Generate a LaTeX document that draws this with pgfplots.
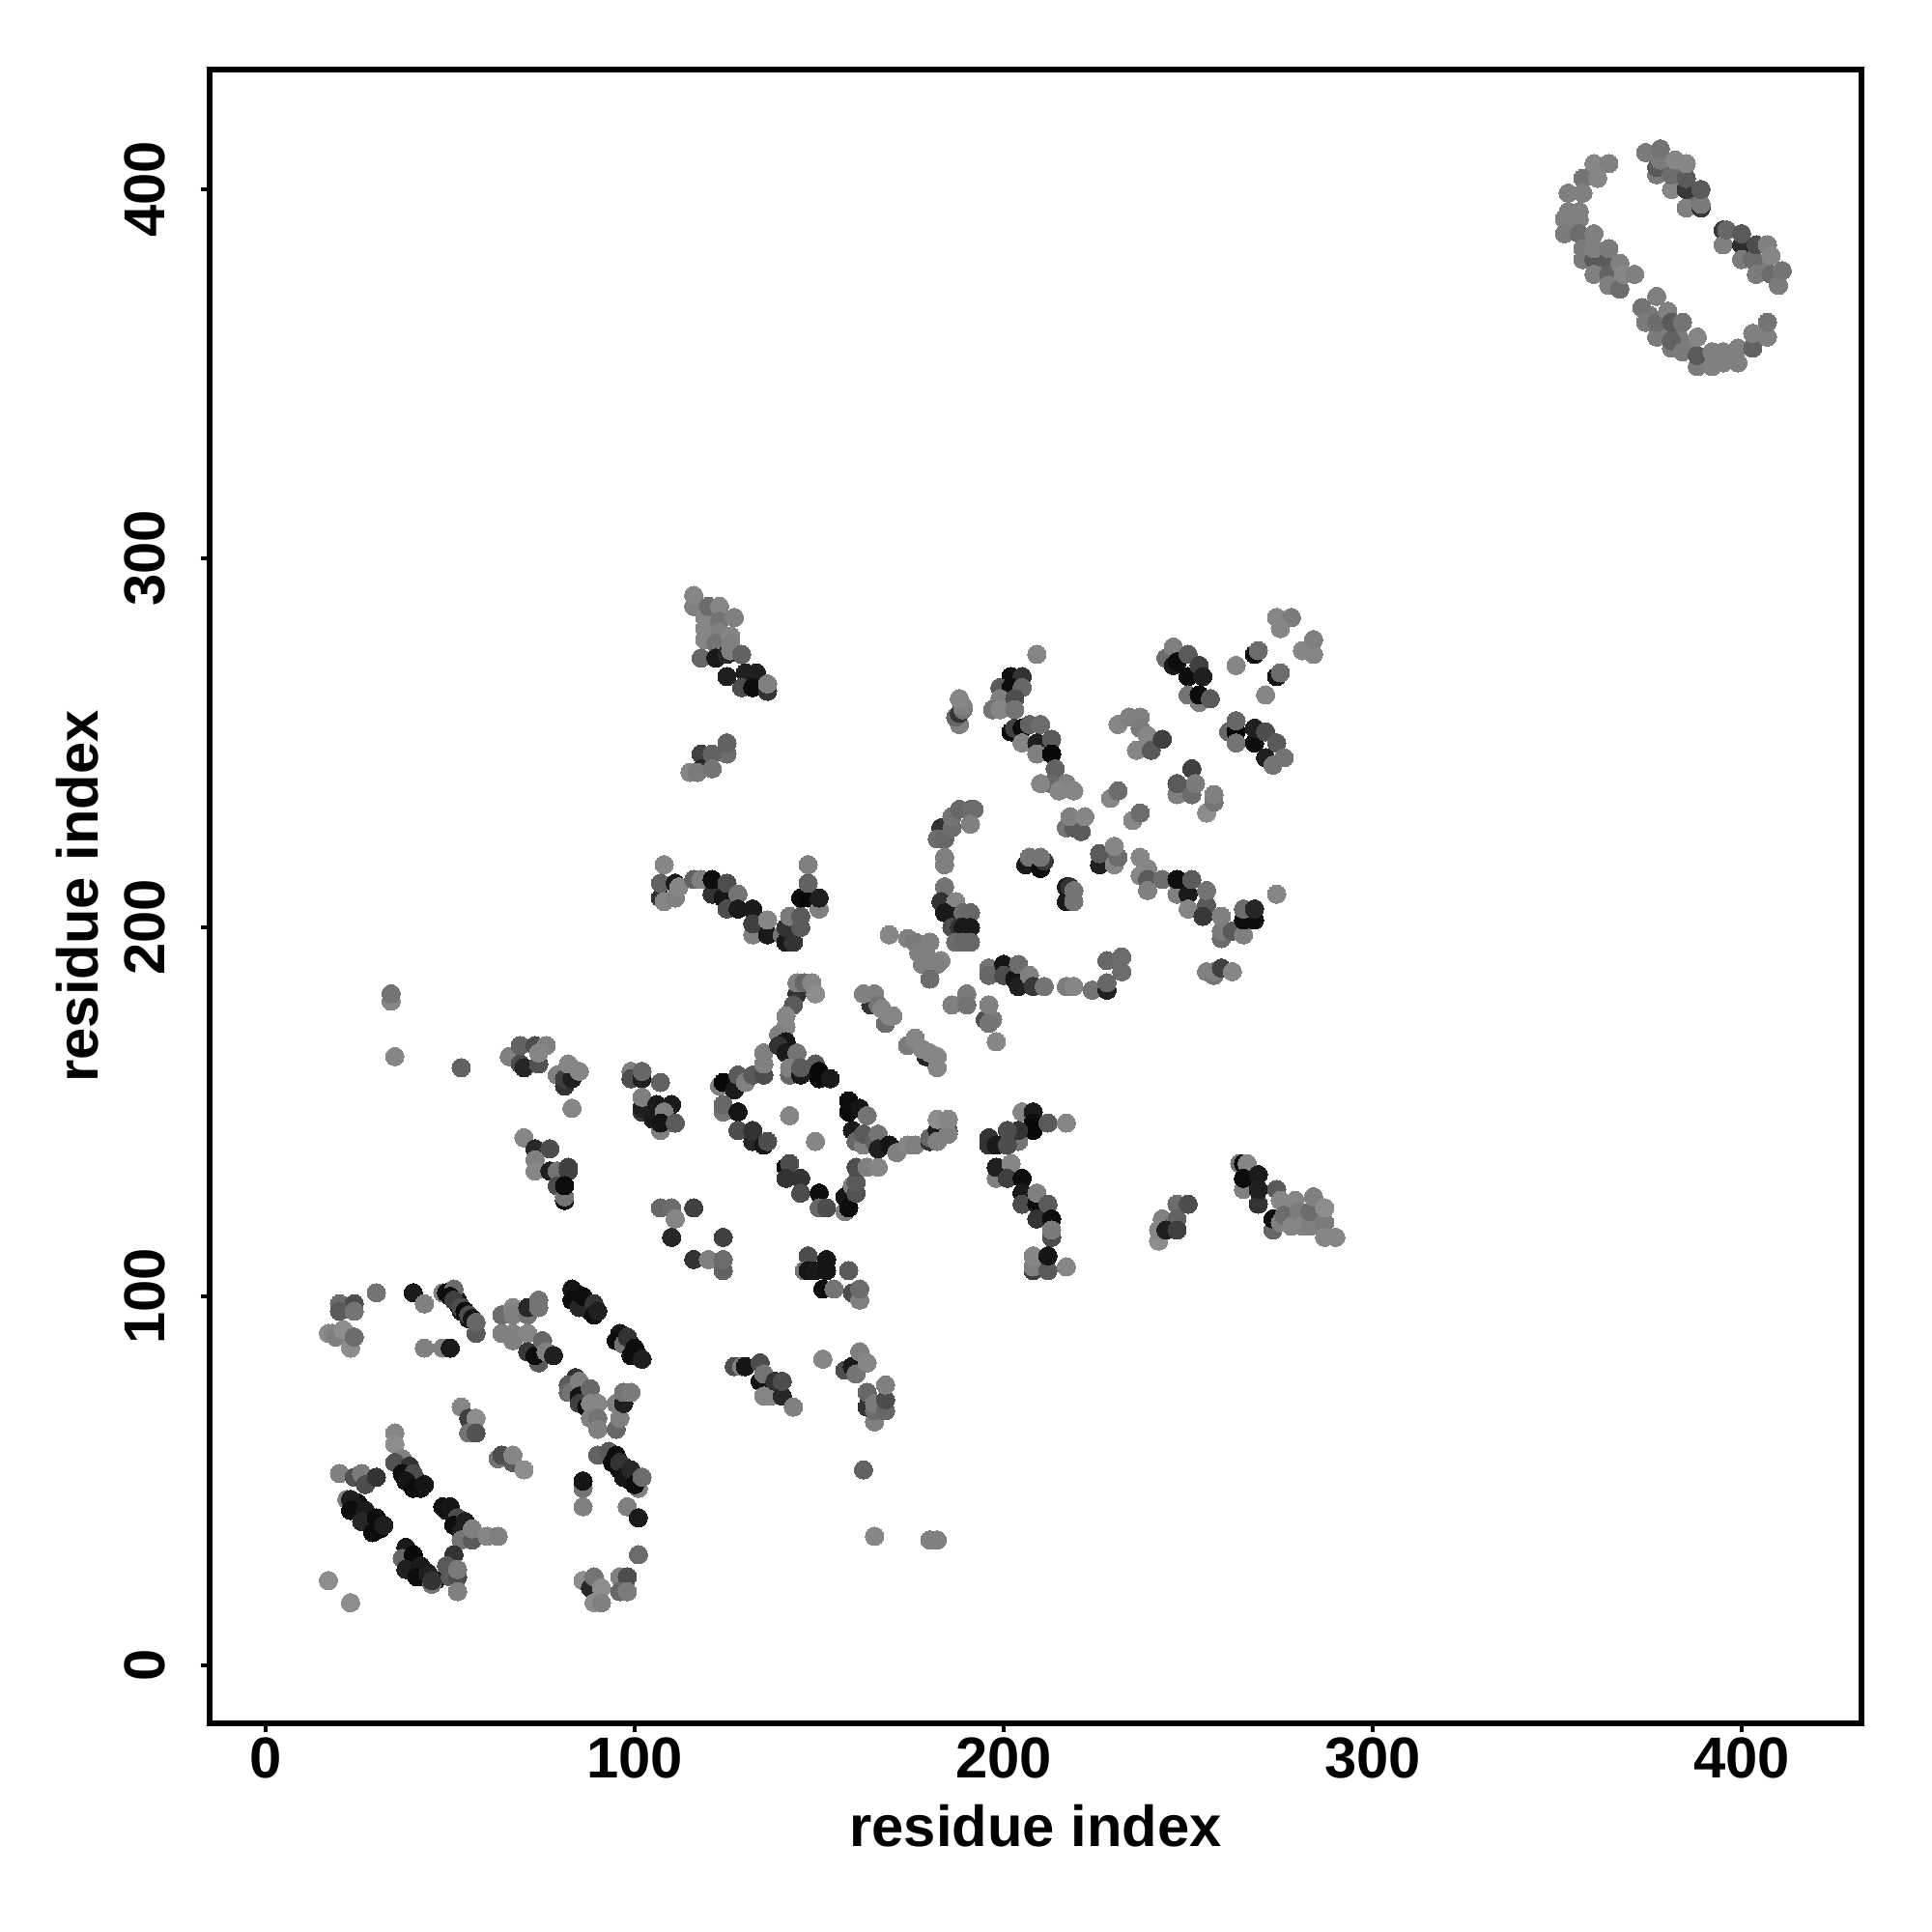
\documentclass[border=0pt]{standalone}
\usepackage{fontspec}
\setmainfont{Liberation Sans}
\usepackage{pgfplots}
\usepackage{pgfplotstable}
\pgfplotsset{compat=1.18}
\pgfplotstableread{
x y g
% runs underneath the clusters
25 44 .05
26 41 .05
28 40 .05
31 37 .05
39 52 .08
41 50 .08
42 48 .08
49 42 .1
52 39 .1
53 37 .1
39 30 .1
41 26 .1
43 24 .1
46 23 .1
52 99 .1
53 96 .1
55 94 .1
84 101 .05
85 99 .05
87 97 .05
88 96 .05
97 88 .05
99 87 .05
101 84 .05
95 56 .08
97 54 .08
98 52 .08
99 50 .08
354 390 .5
358 386 .48
362 379 .48
366 376 .5
375 366 .48
379 362 .48
383 360 .48
386 358 .48
387 398 .4
402 383 .42
406 380 .48
% lower left
20 98 .42
24 98 .3
20 96 .35
24 96 .45
30 101 .45
40 101 .1
43 98 .5
17 90 .55
18 90 .52
19 89 .5
21 91 .55
23 86 .55
24 89 .42
43 86 .5
48 86 .5
50 86 .1
48 101 .5
57 90 .35
49 101 .05
51 102 .42
50 100 .05
52 98 .05
51 99 .25
53 97 .3
54 96 .05
55 95 .3
56 94 .08
57 93 .4
64 95 .42
67 97 .52
67 95 .5
71 95 .45
71 97 .15
74 99 .45
74 97 .45
64 90 .5
67 90 .5
67 88 .5
71 90 .52
71 85 .22
74 82 .35
73 84 .05
75 88 .4
76 85 .5
78 84 .12
83 102 .08
83 99 .05
85 97 .15
86 100 .05
89 98 .2
89 95 .05
90 96 .12
96 90 .08
95 88 .05
97 87 .45
98 89 .2
99 84 .05
100 86 .05
102 83 .12
84 78 .2
82 76 .35
82 74 .4
83 74 .45
85 77 .5
85 73 .08
85 71 .25
87 70 .05
88 75 .4
88 71 .52
90 71 .52
88 67 .5
90 67 .45
90 64 .5
95 64 .4
95 71 .5
96 67 .5
97 71 .12
97 74 .45
99 74 .48
90 57 .38
93 58 .35
94 55 .05
95 57 .05
96 53 .05
96 55 .2
97 51 .08
99 53 .15
101 48 .5
100 49 .05
102 51 .42
86 48 .45
86 50 .08
86 43 .5
98 43 .5
101 40 .1
101 30 .42
86 23 .55
88 21 .15
89 24 .45
91 21 .55
89 17 .55
91 17 .5
96 24 .5
98 24 .3
96 20 .4
98 20 .48
53 70 .52
55 67 .25
57 67 .55
55 63 .45
57 63 .32
63 56 .45
64 57 .3
67 55 .35
67 57 .52
70 53 .55
35 63 .52
35 60 .55
37 56 .5
35 55 .32
39 54 .2
37 52 .05
40 52 .3
38 50 .08
40 48 .05
43 49 .08
20 52 .5
24 51 .32
26 52 .48
27 49 .3
30 51 .2
22 45 .5
23 45 .12
24 43 .1
23 42 .05
27 42 .1
26 39 .15
30 40 .05
29 36 .05
32 38 .12
48 43 .05
50 43 .08
52 40 .3
51 38 .05
54 39 .12
53 36 .12
53 34 .45
56 34 .35
56 37 .5
60 35 .52
63 35 .5
38 32 .1
37 29 .4
40 30 .03
38 26 .12
42 27 .1
41 24 .05
44 25 .12
45 22 .45
45 23 .2
51 30 .2
49 27 .35
50 24 .35
52 24 .3
52 26 .48
52 20 .5
17 23 .55
23 17 .55
% centre
99 161 .5
99 159 .3
102 159 .12
102 161 .4
107 158 .38
102 150 .2
102 151 .12
102 154 .5
106 152 .1
110 152 .1
105 148 .1
108 150 .5
107 145 .5
107 147 .08
111 147 .35
123 157 .5
124 158 .03
127 156 .1
128 160 .35
130 158 .5
132 160 .35
135 160 .3
135 163 .5
135 166 .5
124 150 .45
124 152 .4
128 150 .08
128 145 .3
132 142 .15
132 145 .2
135 141 .08
136 142 .3
142 149 .52
149 142 .52
141 135 .05
142 136 .3
141 132 .2
145 132 .2
145 128 .3
150 128 .05
150 124 .4
152 124 .3
157 123 .5
157 127 .08
158 124 .05
159 130 .5
160 128 .32
160 131 .35
160 135 .3
163 135 .5
166 135 .52
144 182 .2
144 185 .5
146 185 .4
148 185 .52
149 182 .55
143 179 .35
141 176 .52
141 173 .52
139 171 .5
141 169 .08
139 168 .2
141 166 .1
144 166 .45
142 160 .4
142 162 .5
145 160 .1
145 162 .35
149 163 .35
150 159 .03
150 161 .03
153 159 .1
158 150 .03
158 153 .05
161 151 .08
163 149 .45
159 145 .1
160 142 .4
162 141 .5
162 144 .35
165 142 .38
166 144 .45
166 140 .12
169 141 .08
171 139 .5
174 141 .52
176 141 .5
180 142 .2
180 143 .4
182 145 .12
185 145 .3
182 142 .5
185 144 .5
182 148 .55
185 148 .52
164 179 .2
162 182 .5
165 182 .5
166 179 .45
168 174 .42
167 178 .52
169 176 .52
170 176 .52
174 168 .48
176 170 .52
179 165 .15
178 167 .52
180 166 .52
182 165 .52
182 162 .52
186 179 .5
190 182 .48
190 179 .45
195 175 .3
197 175 .48
196 174 .45
196 179 .5
198 169 .52
107 124 .4
110 124 .42
116 124 .25
110 116 .15
111 121 .52
116 110 .2
120 110 .5
124 116 .25
124 107 .38
124 110 .42
147 111 .3
146 107 .45
147 107 .08
149 107 .1
152 110 .08
152 107 .08
151 102 .05
154 102 .45
158 107 .35
159 101 .3
161 99 .5
161 102 .42
127 81 .3
129 81 .5
130 81 .08
134 82 .3
134 77 .08
135 79 .45
135 73 .52
137 73 .52
138 77 .2
140 73 .15
140 77 .3
143 70 .5
151 83 .52
157 80 .3
159 81 .1
160 79 .45
161 85 .5
163 82 .52
163 70 .2
163 74 .4
165 66 .5
165 69 .42
165 71 .48
168 69 .4
168 72 .3
168 76 .5
162 53 .38
165 35 .52
180 34 .5
182 34 .5
% lower right
205 150 .52
208 150 .1
208 147 .05
208 145 .03
212 147 .35
217 147 .52
204 142 .45
204 145 .2
201 145 .3
196 143 .2
196 141 .2
198 141 .1
201 141 .3
198 132 .5
198 135 .12
202 136 .52
201 132 .25
205 132 .05
205 128 .1
205 125 .3
209 125 .05
209 128 .5
212 125 .35
209 121 .2
213 121 .05
213 116 .3
213 118 .48
208 107 .25
208 108 .5
208 111 .52
212 107 .35
212 111 .08
217 108 .52
247 125 .42
250 125 .3
243 121 .5
247 121 .38
242 115 .55
242 118 .52
244 118 .12
247 118 .25
264 136 .45
265 136 .03
266 136 .52
265 129 .5
265 132 .05
269 133 .1
269 125 .2
269 129 .12
274 129 .35
273 118 .4
273 121 .05
275 126 .52
279 126 .52
275 120 .5
276 122 .42
278 119 .52
280 123 .48
281 119 .52
283 119 .5
283 123 .42
284 127 .5
287 120 .48
287 124 .55
287 116 .52
290 116 .52
% upper middle
209 274 .52
202 268 .05
205 268 .2
199 265 .35
202 265 .05
205 265 .4
199 262 .5
203 262 .3
197 259 .45
199 259 .52
203 259 .45
202 253 .05
203 254 .25
205 254 .05
207 255 .38
210 255 .42
205 250 .52
209 250 .12
213 251 .35
209 247 .5
213 247 .03
214 243 .38
213 239 .4
210 239 .52
217 239 .5
215 237 .52
219 237 .52
231 255 .52
234 257 .5
237 257 .5
237 254 .48
236 248 .52
239 252 .52
240 248 .35
243 251 .25
244 273 .42
246 276 .5
246 271 .1
247 272 .05
250 268 .05
250 274 .35
253 271 .25
254 268 .12
250 263 .45
253 261 .5
253 263 .05
256 262 .35
263 271 .52
268 274 .05
269 275 .42
274 284 .52
278 284 .48
275 281 .52
274 268 .08
275 269 .42
271 263 .52
281 275 .52
284 274 .52
284 278 .5
261 253 .4
263 253 .03
263 256 .4
263 250 .45
268 250 .05
268 254 .12
271 253 .3
274 250 .35
271 246 .12
273 244 .45
276 246 .45
251 243 .25
247 236 .5
247 239 .35
251 236 .42
252 239 .48
255 231 .55
257 234 .45
257 236 .5
229 235 .52
231 237 .42
235 229 .52
237 231 .42
217 227 .45
219 227 .35
218 230 .5
221 226 .35
222 230 .52
206 217 .1
207 219 .45
210 216 .05
211 218 .22
210 219 .45
217 207 .1
217 211 .1
218 211 .2
219 207 .45
219 210 .45
226 217 .12
226 220 .35
230 217 .52
231 219 .42
230 222 .52
237 214 .52
237 219 .52
239 216 .52
239 213 .35
243 213 .42
239 210 .5
247 209 .5
247 213 .05
250 209 .1
251 213 .35
250 205 .52
255 206 .35
255 210 .45
254 203 .22
259 197 .42
259 199 .48
259 203 .5
262 199 .35
265 198 .5
265 202 .05
268 202 .05
265 205 .42
268 205 .15
274 209 .52
255 188 .5
257 187 .45
257 188 .5
259 189 .25
262 188 .52
% upper left
116 287 .5
116 290 .52
119 284 .52
119 281 .52
119 278 .52
120 287 .42
123 287 .52
123 283 .45
123 280 .5
122 277 .45
127 284 .5
126 279 .52
126 277 .5
118 273 .4
122 273 .1
125 274 .15
126 275 .5
129 274 .38
125 268 .12
130 269 .12
133 269 .12
129 265 .3
132 265 .05
136 264 .2
136 266 .5
125 247 .42
125 250 .38
118 247 .25
118 243 .15
121 247 .38
115 242 .52
117 242 .48
121 243 .45
108 217 .52
107 208 .2
107 212 .38
111 212 .1
108 207 .52
111 208 .5
112 211 .52
116 213 .38
118 213 .5
121 209 .2
121 213 .05
124 208 .08
125 212 .3
125 205 .3
128 209 .45
128 205 .1
132 205 .1
132 198 .5
132 201 .25
136 198 .1
136 202 .52
140 198 .45
141 196 .1
143 196 .2
141 200 .2
142 203 .48
145 200 .35
145 203 .35
145 208 .05
147 208 .03
150 205 .5
150 208 .12
147 212 .38
147 217 .5
188 255 .5
187 257 .4
188 258 .2
189 259 .45
189 260 .5
188 262 .52
183 227 .2
182 224 .42
184 224 .4
186 227 .42
186 230 .45
188 232 .4
191 232 .42
192 232 .42
191 228 .5
184 217 .5
184 219 .5
184 211 .45
183 207 .2
187 207 .52
184 204 .1
186 203 .1
189 204 .42
191 204 .4
186 200 .3
188 200 .2
189 200 .1
191 200 .1
187 196 .42
189 196 .4
191 196 .4
196 189 .45
196 187 .4
200 190 .08
200 187 .3
203 186 .08
204 190 .42
204 184 .12
207 187 .5
208 184 .22
211 184 .45
217 184 .48
219 184 .52
224 183 .45
228 183 .12
228 185 .4
228 191 .4
232 188 .42
232 192 .42
169 198 .52
174 197 .5
176 196 .48
177 193 .5
179 193 .5
180 196 .5
183 191 .52
178 190 .5
182 190 .5
180 186 .42
% upper far left
34 180 .52
34 182 .45
35 165 .52
53 162 .38
66 165 .5
69 163 .3
70 162 .15
69 168 .38
73 168 .3
74 163 .32
76 168 .5
74 166 .52
79 160 .5
81 157 .2
81 159 .25
83 159 .12
82 163 .52
85 161 .52
83 151 .52
70 143 .52
73 140 .15
77 140 .3
73 137 .5
73 134 .52
77 134 .12
79 134 .45
82 134 .25
82 135 .25
79 130 .3
81 126 .05
81 127 .45
81 130 .05
% upper right
360 407 .52
364 407 .5
357 403 .45
361 403 .52
353 399 .5
357 399 .5
353 394 .5
356 394 .5
352 392 .5
356 392 .5
352 388 .48
356 388 .42
360 388 .5
357 384 .48
357 381 .48
360 381 .35
360 384 .5
364 381 .35
364 384 .48
360 377 .5
364 377 .38
367 380 .5
364 374 .5
367 373 .42
368 377 .52
371 377 .5
377 371 .5
373 368 .45
374 364 .48
377 360 .48
377 364 .42
380 367 .5
381 364 .35
384 364 .45
381 357 .48
381 359 .38
384 356 .48
388 352 .48
388 355 .35
388 360 .52
392 352 .5
392 356 .5
395 353 .5
395 356 .5
399 353 .5
399 357 .5
403 357 .38
403 361 .5
407 360 .5
407 364 .45
374 410 .48
377 404 .48
377 406 .35
378 408 .48
378 411 .45
381 400 .52
381 404 .42
382 408 .52
385 395 .5
385 400 .22
385 403 .35
385 407 .52
389 395 .22
389 396 .48
389 400 .35
395 389 .22
395 385 .5
396 389 .4
400 385 .18
400 388 .35
400 381 .48
403 381 .42
404 385 .3
407 385 .5
408 382 .52
404 377 .48
408 377 .42
410 374 .48
411 378 .45
}\contacts
\begin{document}
\begin{tikzpicture}
\path[use as bounding box] (0,0) rectangle (20,20);
\begin{axis}[
    at={(2.17cm,2.16cm)},
    anchor=south west,
    scale only axis,
    width=17.10cm,
    height=17.12cm,
    xmin=-15.2, xmax=432.5,
    ymin=-15.7, ymax=432.5,
    xtick={0,100,200,300,400},
    ytick={0,100,200,300,400},
    tick align=outside,
    tick pos=left,
    major tick length=0.09cm,
    axis line style={line width=0.055cm},
    major tick style={line width=0.04cm,black},
    /pgf/number format/assume math mode=true,
    tick label style={font=\fontsize{17}{20}\selectfont\bfseries},
    xticklabel style={yshift=0.07cm},
    yticklabel style={rotate=90,anchor=south,yshift=0.24cm},
    label style={font=\fontsize{17}{20}\selectfont\bfseries},
    x label style={at={(axis description cs:0.5,0)},anchor=center,yshift=-1.06cm},
    y label style={at={(axis description cs:0,0.5)},anchor=center,yshift=1.37cm},
    xlabel={residue index},
    ylabel={residue index},
    colormap={graygrey}{gray(0cm)=(0); gray(1cm)=(1)},
    point meta min=0, point meta max=1,
]
\addplot[
    scatter, only marks,
    mark=*, mark size=0.095cm,
    scatter src=explicit,
    scatter/use mapped color={draw=mapped color,fill=mapped color,line width=0pt},
] table[x=x,y=y,meta=g] {\contacts};
\end{axis}
\end{tikzpicture}
\end{document}
